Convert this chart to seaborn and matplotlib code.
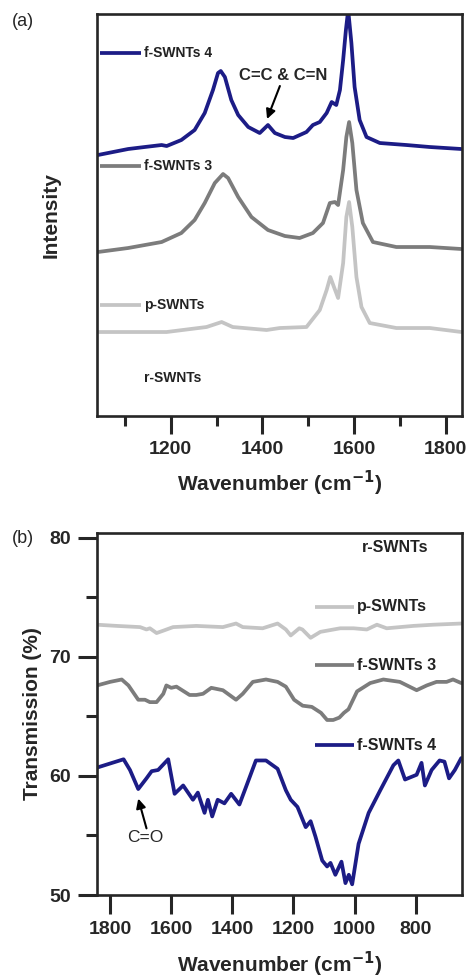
import matplotlib
matplotlib.use("Agg")
import matplotlib.pyplot as plt
import seaborn as sns
import pandas as pd

# ---- Raman (panel a), intensity in arbitrary units ----
raman_f4_x = [1041, 1107, 1143, 1180, 1191, 1223, 1252, 1274, 1292, 1303, 1309, 1318,
              1332, 1347, 1369, 1394, 1412, 1427, 1449, 1467, 1496, 1510, 1525, 1540,
              1551, 1561, 1569, 1576, 1582, 1587, 1594, 1601, 1612, 1627, 1656, 1714,
              1765, 1834]
raman_f4_y = [261, 267, 269, 271, 270, 276, 286, 303, 326, 343, 345, 339,
              316, 301, 289, 283, 291, 283, 279, 278, 284, 291, 294, 303,
              314, 311, 326, 356, 386, 406, 373, 329, 296, 279, 273, 271,
              269, 267]

raman_f3_x = [1041, 1107, 1180, 1223, 1252, 1274, 1296, 1314, 1325, 1347, 1376, 1412,
              1449, 1481, 1510, 1532, 1547, 1558, 1565, 1576, 1583, 1589, 1596, 1605,
              1619, 1641, 1692, 1765, 1834]
raman_f3_y = [164, 168, 174, 183, 196, 213, 233, 242, 238, 219, 199, 186,
              180, 178, 183, 193, 213, 214, 211, 246, 279, 294, 273, 226,
              193, 174, 169, 169, 167]

raman_p_x = [1041, 1191, 1278, 1311, 1335, 1409, 1438, 1496, 1525, 1540, 1548, 1556,
             1565, 1576, 1583, 1589, 1596, 1605, 1616, 1634, 1692, 1765, 1834]
raman_p_y = [84, 84, 89, 94, 89, 86, 88, 89, 106, 126, 139, 129,
             118, 153, 199, 214, 189, 139, 109, 93, 88, 88, 84]

# ---- FTIR (panel b), transmission % ----
ir_f4_x = [1843, 1756, 1735, 1708, 1681, 1664, 1643, 1610, 1589, 1561, 1529, 1513,
           1491, 1480, 1466, 1448, 1426, 1404, 1377, 1355, 1323, 1290, 1252, 1225,
           1209, 1187, 1160, 1144, 1128, 1106, 1090, 1079, 1063, 1043, 1030, 1019,
           1008, 987, 954, 916, 873, 857, 835, 797, 781, 770, 748, 722, 706, 691,
           672, 651]
ir_f4_y = [60.7, 61.4, 60.5, 58.9, 59.8, 60.4, 60.5, 61.4, 58.5, 59.2, 58.0, 58.6,
           56.9, 58.0, 56.6, 58.0, 57.7, 58.5, 57.6, 59.1, 61.3, 61.3, 60.6, 58.8,
           58.0, 57.4, 55.7, 56.2, 54.9, 52.9, 52.4, 52.7, 51.7, 52.8, 51.0, 51.7,
           50.9, 54.3, 56.9, 58.8, 60.9, 61.3, 59.7, 60.1, 61.1, 59.2, 60.5, 61.3,
           61.2, 59.8, 60.5, 61.5]

ir_f3_x = [1843, 1800, 1762, 1740, 1708, 1686, 1670, 1648, 1626, 1616, 1600, 1583,
           1540, 1518, 1496, 1469, 1431, 1388, 1366, 1333, 1290, 1252, 1225, 1198,
           1170, 1140, 1110, 1090, 1070, 1050, 1035, 1020, 992, 949, 906, 852,
           797, 764, 732, 699, 678, 651]
ir_f3_y = [67.6, 67.9, 68.1, 67.6, 66.4, 66.4, 66.2, 66.2, 66.9, 67.6, 67.4, 67.5,
           66.8, 66.8, 66.9, 67.4, 67.2, 66.4, 66.9, 67.9, 68.1, 67.9, 67.5, 66.4,
           65.9, 65.8, 65.3, 64.7, 64.7, 64.9, 65.3, 65.6, 67.1, 67.8, 68.1, 67.9,
           67.2, 67.6, 67.9, 67.9, 68.1, 67.8]

ir_p_x = [1843, 1778, 1702, 1681, 1670, 1648, 1626, 1594, 1518, 1431, 1388, 1366,
          1301, 1252, 1225, 1209, 1181, 1171, 1144, 1112, 1047, 1003, 960, 927,
          895, 808, 743, 651]
ir_p_y = [72.7, 72.6, 72.5, 72.3, 72.4, 72.0, 72.2, 72.5, 72.6, 72.5, 72.8, 72.5,
          72.4, 72.8, 72.3, 71.8, 72.4, 72.3, 71.6, 72.1, 72.4, 72.4, 72.3, 72.7,
          72.4, 72.6, 72.7, 72.8]

NAVY = "#1c1c86"
GREY = "#7c7c7c"
LIGHT = "#c4c4c4"

sns.set_theme(style="ticks")
plt.rcParams["font.family"] = ["Liberation Sans", "DejaVu Sans"]
plt.rcParams["axes.linewidth"] = 1.9
plt.rcParams["lines.solid_joinstyle"] = "round"

fig = plt.figure(figsize=(4.69, 9.8), dpi=100)
ax1 = fig.add_axes([0.2068, 0.5755, 0.778, 0.4102])
ax2 = fig.add_axes([0.2068, 0.0867, 0.778, 0.3694])

lw = 2.7

# panel (a)
for xs, ys, c in [(raman_p_x, raman_p_y, LIGHT), (raman_f3_x, raman_f3_y, GREY),
                  (raman_f4_x, raman_f4_y, NAVY)]:
    df = pd.DataFrame({"x": xs, "y": ys})
    sns.lineplot(data=df, x="x", y="y", ax=ax1, color=c, lw=lw, sort=False)

ax1.set_xlim(1039, 1835)
ax1.set_ylim(0, 402)
ax1.set_yticks([])
ax1.set_xticks([1200, 1400, 1600, 1800])
ax1.set_xticks([1100, 1300, 1500, 1700], minor=True)
ax1.tick_params(axis="x", which="major", length=13, width=2.2, labelsize=14, pad=5)
ax1.tick_params(axis="x", which="minor", length=7, width=2.2)
for lab in ax1.get_xticklabels():
    lab.set_fontweight("bold")
ax1.set_xlabel("Wavenumber (cm$^{\\mathbf{-1}}$)", fontsize=15, fontweight="bold", labelpad=8)
ax1.set_ylabel("Intensity", fontsize=15, fontweight="bold", labelpad=26)

for name, c, yy in [("f-SWNTs 4", NAVY, 0.903), ("f-SWNTs 3", GREY, 0.622),
                    ("p-SWNTs", LIGHT, 0.276), ("r-SWNTs", None, 0.0945)]:
    if c is not None:
        ax1.plot([0.008, 0.12], [yy, yy], transform=ax1.transAxes, color=c, lw=lw,
                 solid_capstyle="butt")
    ax1.text(0.13, yy, name, transform=ax1.transAxes, fontsize=10, fontweight="bold",
             va="center", ha="left", color="#222222")

ax1.text(1445, 341, "C=C & C=N", fontsize=12, fontweight="bold", ha="center", va="center")
ax1.annotate("", xy=(1410, 297), xytext=(1438, 330),
             arrowprops=dict(arrowstyle="-|>", color="black", lw=1.5,
                             mutation_scale=14, shrinkA=0, shrinkB=0))
fig.text(0.025, 0.978, "(a)", fontsize=13, va="center", ha="left")

# panel (b)
for xs, ys, c in [(ir_p_x, ir_p_y, LIGHT), (ir_f3_x, ir_f3_y, GREY),
                  (ir_f4_x, ir_f4_y, NAVY)]:
    df = pd.DataFrame({"x": xs, "y": ys})
    sns.lineplot(data=df, x="x", y="y", ax=ax2, color=c, lw=lw, sort=False)

ax2.set_xlim(1843, 649)
ax2.set_ylim(50, 80.4)
ax2.set_xticks([1800, 1600, 1400, 1200, 1000, 800])
ax2.set_yticks([50, 60, 70, 80])
ax2.set_yticks([55, 65, 75], minor=True)
ax2.tick_params(axis="both", which="major", length=14, width=2.2, labelsize=14, pad=5)
ax2.tick_params(axis="y", which="minor", length=8, width=2.2)
for lab in ax2.get_xticklabels() + ax2.get_yticklabels():
    lab.set_fontweight("bold")
ax2.set_xlabel("Wavenumber (cm$^{\\mathbf{-1}}$)", fontsize=15, fontweight="bold", labelpad=8)
ax2.set_ylabel("Transmission (%)", fontsize=15, fontweight="bold", labelpad=5)

for name, c, yy in [("r-SWNTs", None, 0.961), ("p-SWNTs", LIGHT, 0.796),
                    ("f-SWNTs 3", GREY, 0.635), ("f-SWNTs 4", NAVY, 0.414)]:
    if c is not None:
        ax2.plot([0.597, 0.703], [yy, yy], transform=ax2.transAxes, color=c, lw=lw,
                 solid_capstyle="butt")
    ax2.text(0.713 if c is not None else 0.726, yy, name, transform=ax2.transAxes,
             fontsize=11.5, fontweight="bold", va="center", ha="left", color="#222222")

ax2.text(1686, 54.8, "C=O", fontsize=12.5, ha="center", va="center")
ax2.annotate("", xy=(1708, 58.1), xytext=(1681, 55.6),
             arrowprops=dict(arrowstyle="-|>", color="black", lw=1.5,
                             mutation_scale=14, shrinkA=0, shrinkB=0))
fig.text(0.025, 0.451, "(b)", fontsize=13, va="center", ha="left")

fig.savefig("out.png", dpi=100)
